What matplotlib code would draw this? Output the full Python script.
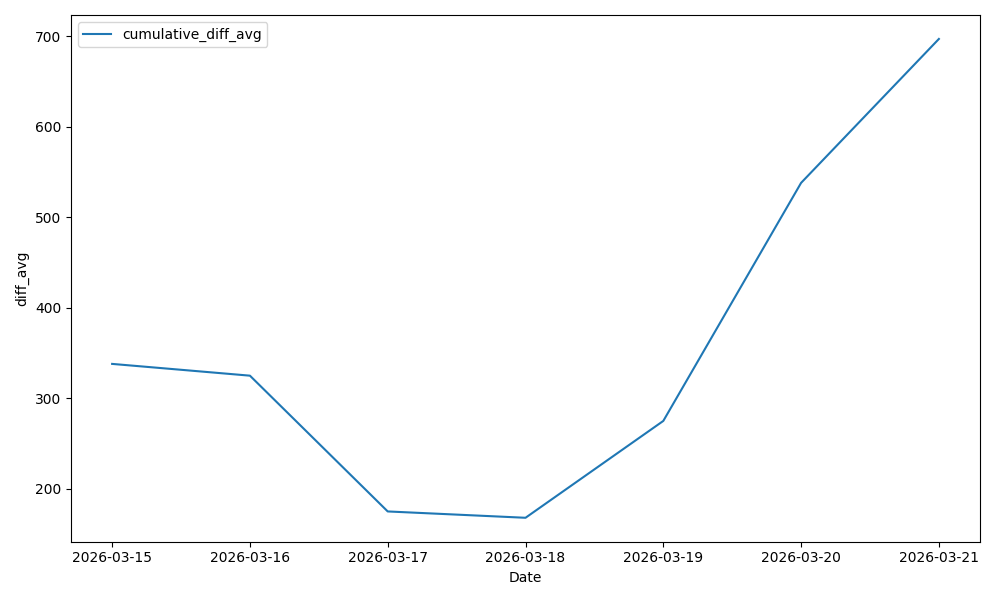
import pandas as pd
import matplotlib
matplotlib.use("Agg")
import matplotlib.pyplot as plt

dates = ["2026-03-15", "2026-03-16", "2026-03-17", "2026-03-18",
         "2026-03-19", "2026-03-20", "2026-03-21"]
cumulative_diff_avg = [338, 325, 175, 168, 275, 538, 697]

x = pd.to_datetime(dates)

fig, ax = plt.subplots(figsize=(10, 6), dpi=100)
ax.plot(x, cumulative_diff_avg, label="cumulative_diff_avg")
ax.set_xticks(x)
ax.set_xticklabels(dates)
ax.set_xlabel("Date")
ax.set_ylabel("diff_avg")
ax.legend(loc="upper left")
plt.tight_layout()
plt.savefig("out.png")
